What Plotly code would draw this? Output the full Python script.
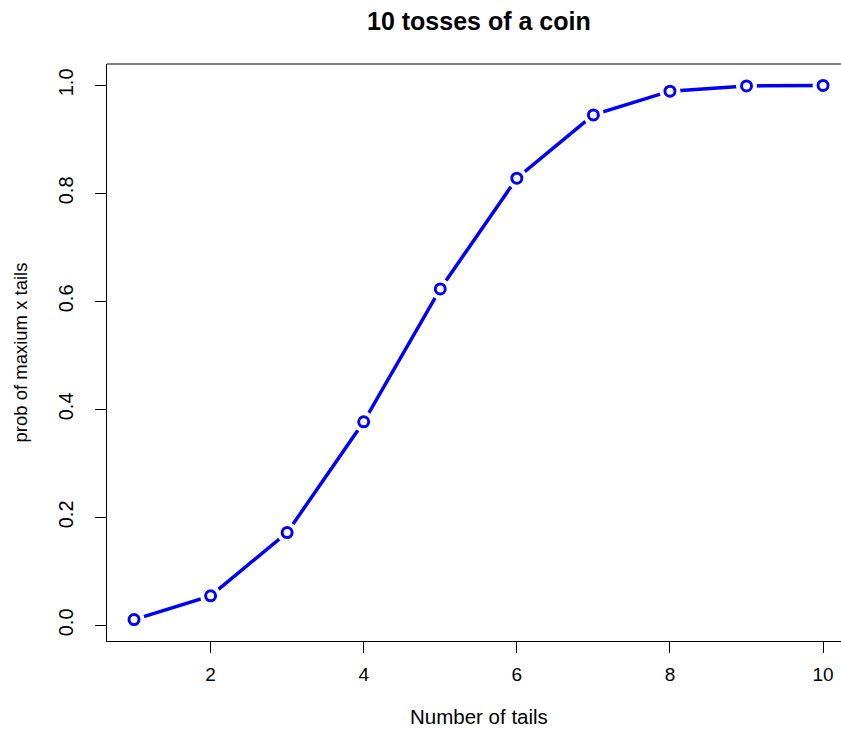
import plotly.graph_objects as go

# Cumulative probability of at most x tails in 10 tosses of a fair coin
tails = [1, 2, 3, 4, 5, 6, 7, 8, 9, 10]
prob = [0.0107, 0.0547, 0.1719, 0.3770, 0.6230, 0.8281, 0.9453, 0.9893, 0.9990, 1.0000]

x_ticks = [2, 4, 6, 8, 10]
y_ticks = [0.0, 0.2, 0.4, 0.6, 0.8, 1.0]
y_tick_text = ["0.0", "0.2", "0.4", "0.6", "0.8", "1.0"]

BLUE = "#0000FF"
FONT = "Liberation Sans, Arial, Helvetica, sans-serif"

fig = go.Figure()

# connecting line
fig.add_trace(go.Scatter(
    x=tails, y=prob, mode="lines",
    line=dict(color=BLUE, width=3.5),
    hoverinfo="skip", showlegend=False,
))
# white discs leave a gap between line and each point
fig.add_trace(go.Scatter(
    x=tails, y=prob, mode="markers",
    marker=dict(symbol="circle", size=21, color="white", line=dict(width=0)),
    hoverinfo="skip", showlegend=False,
))
# open circle points
fig.add_trace(go.Scatter(
    x=tails, y=prob, mode="markers",
    marker=dict(symbol="circle-open", size=10, color=BLUE, line=dict(color=BLUE, width=3)),
    showlegend=False,
))

fig.update_layout(
    width=841, height=729,
    margin=dict(l=107, r=0, t=64, b=88),
    paper_bgcolor="white", plot_bgcolor="white",
    font=dict(family=FONT, color="black", size=20),
    xaxis=dict(
        range=[0.647, 10.234],
        tickvals=x_ticks, ticktext=[str(v) for v in x_ticks],
        ticks="outside", ticklen=11, tickwidth=1, tickcolor="black",
        showline=True, linecolor="black", linewidth=1, mirror=False,
        showgrid=False, zeroline=False,
        tickfont=dict(size=19),
        ticklabelstandoff=5,
    ),
    yaxis=dict(
        range=[-0.0289, 1.0396],
        tickvals=y_ticks, ticktext=y_tick_text, tickangle=-90,
        ticks="outside", ticklen=11, tickwidth=1, tickcolor="black",
        showline=True, linecolor="black", linewidth=1, mirror=False,
        showgrid=False, zeroline=False,
        tickfont=dict(size=20),
        ticklabelstandoff=14,
    ),
    shapes=[
        # top edge of the plot frame (frame continues past the right edge)
        dict(type="line", xref="paper", yref="paper", x0=0, x1=1, y0=1, y1=1,
             line=dict(color="black", width=1)),
    ],
    annotations=[
        dict(text="<b>10 tosses of a coin</b>", x=5.5, xref="x", y=1, yref="paper",
             yanchor="middle", yshift=43, showarrow=False, font=dict(size=25, family=FONT)),
        dict(text="Number of tails", x=5.5, xref="x", y=0, yref="paper",
             yanchor="middle", yshift=-75, showarrow=False, font=dict(size=20.5, family=FONT)),
        dict(text="prob of maxium x tails", x=0, xref="paper", y=0.5, yref="paper",
             xanchor="center", yanchor="middle", xshift=20 - 107,
             showarrow=False, textangle=-90, font=dict(size=18.5, family=FONT)),
    ],
)

fig.write_html("out.html")
